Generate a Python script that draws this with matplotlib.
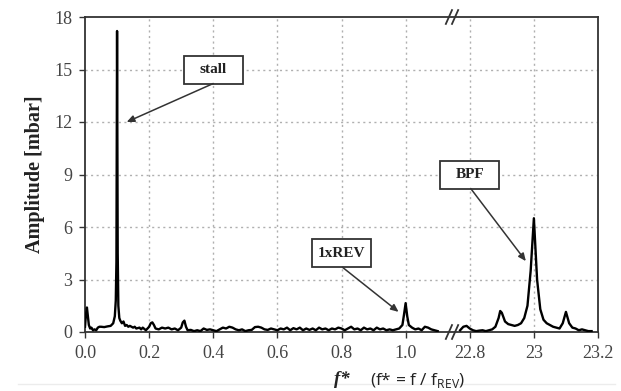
import matplotlib
matplotlib.use("Agg")
import matplotlib.pyplot as plt
from matplotlib.patches import Rectangle
from matplotlib.lines import Line2D

# spectrum below 1xREV (f* = f / f_REV)
f_low = [0.000, 0.003, 0.006, 0.009, 0.012, 0.016, 0.020, 0.025, 0.030, 0.035,
         0.040, 0.045, 0.050, 0.060, 0.070, 0.080, 0.088, 0.093, 0.096, 0.098,
         0.100, 0.102, 0.104, 0.107, 0.110, 0.115, 0.120, 0.125, 0.130, 0.135,
         0.140, 0.150, 0.155, 0.160, 0.170, 0.175, 0.180, 0.190, 0.200, 0.205,
         0.210, 0.215, 0.220, 0.230, 0.240, 0.250, 0.260, 0.270, 0.280, 0.290,
         0.300, 0.305, 0.310, 0.315, 0.320, 0.330, 0.340, 0.350, 0.360, 0.370,
         0.380, 0.390, 0.400, 0.410, 0.420, 0.430, 0.440, 0.450, 0.460, 0.470,
         0.480, 0.490, 0.500, 0.510, 0.520, 0.530, 0.540, 0.550, 0.560, 0.570,
         0.580, 0.590, 0.600, 0.610, 0.620, 0.630, 0.640, 0.650, 0.660, 0.670,
         0.680, 0.690, 0.700, 0.710, 0.720, 0.730, 0.740, 0.750, 0.760, 0.770,
         0.780, 0.790, 0.800, 0.810, 0.820, 0.830, 0.840, 0.850, 0.860, 0.870,
         0.880, 0.890, 0.900, 0.910, 0.920, 0.930, 0.940, 0.950, 0.960, 0.970,
         0.980, 0.990, 0.995, 1.000, 1.005, 1.010, 1.020, 1.030, 1.040, 1.050,
         1.060, 1.070, 1.080, 1.090, 1.100]
a_low = [0.30, 1.00, 1.40, 0.90, 0.40, 0.20, 0.25, 0.10, 0.15, 0.10,
         0.25, 0.30, 0.30, 0.28, 0.32, 0.35, 0.50, 0.90, 1.80, 4.00,
         17.2, 4.50, 1.50, 0.80, 0.65, 0.50, 0.60, 0.35, 0.40, 0.30,
         0.35, 0.25, 0.30, 0.20, 0.25, 0.15, 0.25, 0.10, 0.30, 0.50,
         0.55, 0.40, 0.20, 0.15, 0.25, 0.20, 0.25, 0.15, 0.20, 0.10,
         0.25, 0.55, 0.65, 0.30, 0.10, 0.12, 0.05, 0.10, 0.05, 0.20,
         0.12, 0.15, 0.10, 0.05, 0.15, 0.25, 0.20, 0.30, 0.25, 0.15,
         0.10, 0.15, 0.05, 0.10, 0.12, 0.28, 0.30, 0.25, 0.15, 0.12,
         0.20, 0.15, 0.10, 0.20, 0.15, 0.25, 0.10, 0.22, 0.15, 0.25,
         0.10, 0.20, 0.12, 0.20, 0.10, 0.25, 0.15, 0.20, 0.10, 0.20,
         0.15, 0.25, 0.20, 0.10, 0.20, 0.30, 0.15, 0.20, 0.10, 0.25,
         0.15, 0.20, 0.10, 0.25, 0.15, 0.20, 0.10, 0.15, 0.10, 0.15,
         0.20, 0.40, 1.00, 1.65, 0.90, 0.40, 0.25, 0.15, 0.20, 0.10,
         0.30, 0.25, 0.15, 0.10, 0.05]

# spectrum around the blade passing frequency
f_bpf = [22.77, 22.78, 22.79, 22.80, 22.81, 22.82, 22.83, 22.84, 22.85, 22.86,
         22.87, 22.88, 22.89, 22.895, 22.90, 22.91, 22.92, 22.93, 22.94, 22.95,
         22.96, 22.97, 22.98, 22.99, 23.00, 23.01, 23.02, 23.03, 23.04, 23.05,
         23.06, 23.07, 23.08, 23.09, 23.10, 23.11, 23.12, 23.13, 23.14, 23.15,
         23.16, 23.17, 23.18]
a_bpf = [0.10, 0.30, 0.35, 0.20, 0.10, 0.05, 0.08, 0.10, 0.05, 0.10,
         0.15, 0.30, 0.80, 1.20, 1.10, 0.60, 0.45, 0.40, 0.35, 0.40,
         0.50, 0.80, 1.50, 3.50, 6.50, 3.00, 1.30, 0.70, 0.50, 0.40,
         0.30, 0.25, 0.20, 0.50, 1.15, 0.50, 0.25, 0.20, 0.10, 0.15,
         0.10, 0.05, 0.05]

xtick_labels = ["0.0", "0.2", "0.4", "0.6", "0.8", "1.0", "22.8", "23", "23.2"]
y_ticks = [0, 3, 6, 9, 12, 15, 18]

# callouts: label, box centre (f*, amp), arrow tail, arrow head
callouts = [
    ("stall", (0.4, 15.0), (0.4, 14.2), (0.13, 12.0)),
    ("1xREV", (0.8, 4.5), (0.803, 3.7), (0.978, 1.15)),
    ("BPF", (22.8, 9.0), (22.803, 8.2), (22.975, 4.05)),
]


def to_axis(f):
    # both segments share one axis: 22.8 sits at 1.2
    return f if f < 2 else f - 22.8 + 1.2


serif = "Liberation Serif"
dark = "#333333"
grid_col = "#b0b0b0"

fig = plt.figure(figsize=(6.21, 3.91), dpi=100)
ax = fig.add_axes([85 / 621, 59 / 391, 513 / 621, 315 / 391])

ax.plot([to_axis(v) for v in f_low], a_low, color="black", lw=1.7, zorder=3)
ax.plot([to_axis(v) for v in f_bpf], a_bpf, color="black", lw=1.7, zorder=3)

ax.set_xlim(0, 1.6)
ax.set_ylim(0, 18)
x_ticks = [0, 0.2, 0.4, 0.6, 0.8, 1.0, 1.2, 1.4, 1.6]
ax.set_xticks(x_ticks)
ax.set_xticklabels(xtick_labels)
ax.set_yticks(y_ticks)
ax.tick_params(direction="out", length=4, width=1, color=dark,
               labelsize=13, labelcolor="#444444", pad=5)
for lab in ax.get_xticklabels() + ax.get_yticklabels():
    lab.set_fontfamily(serif)

for x in x_ticks[1:-1]:
    ax.axvline(x, color=grid_col, ls=(0, (1.5, 2.5)), lw=1, zorder=1)
for y in y_ticks[1:-1]:
    ax.axhline(y, color=grid_col, ls=(0, (1.5, 2.5)), lw=1, zorder=1)

for side in ax.spines.values():
    side.set_color(dark)
    side.set_linewidth(1.3)

ax.set_ylabel("Amplitude [mbar]", fontfamily=serif, fontweight="bold",
              fontsize=14.5, color="#222222", labelpad=7)

# axis break marks on top and bottom spines
xb = (452 - 85) / 513
for yb in (0, 1):
    for dx in (-0.006, 0.006):
        ax.add_line(Line2D([xb + dx - 0.006, xb + dx + 0.006],
                           [yb - 0.022, yb + 0.022], transform=ax.transAxes,
                           color=dark, lw=1.3, clip_on=False, zorder=5))

bw, bh = 59 / 320, 28 / 17.5
for label, centre, tail, head in callouts:
    cx, cy = to_axis(centre[0]), centre[1]
    ax.add_patch(Rectangle((cx - bw / 2, cy - bh / 2), bw, bh,
                           facecolor="white", edgecolor=dark, lw=1.3, zorder=4))
    ax.text(cx, cy, label, ha="center", va="center", fontfamily=serif,
            fontweight="bold", fontsize=11, color="#222222", zorder=5)
    ax.annotate("", xy=(to_axis(head[0]), head[1]),
                xytext=(to_axis(tail[0]), tail[1]),
                arrowprops=dict(arrowstyle="-|>,head_length=0.45,head_width=0.2",
                                color=dark, lw=1.1, shrinkA=0, shrinkB=0),
                zorder=4)

fig.text(342 / 621, 1 - 379 / 391, "f*", fontfamily=serif, fontweight="bold",
         fontstyle="italic", fontsize=13.5, ha="center", va="center",
         color="#222222")
fig.text(370 / 621, 1 - 380 / 391, r"(f* = f / f$_{\mathregular{REV}}$)",
         fontfamily="Open Sans", fontsize=12.5, ha="left", va="center",
         color="#222222")

fig.add_artist(Line2D([18 / 621, 615 / 621], [1 - 384 / 391] * 2,
                      transform=fig.transFigure, color="#ececec", lw=1))

fig.savefig("out.png", dpi=100)
